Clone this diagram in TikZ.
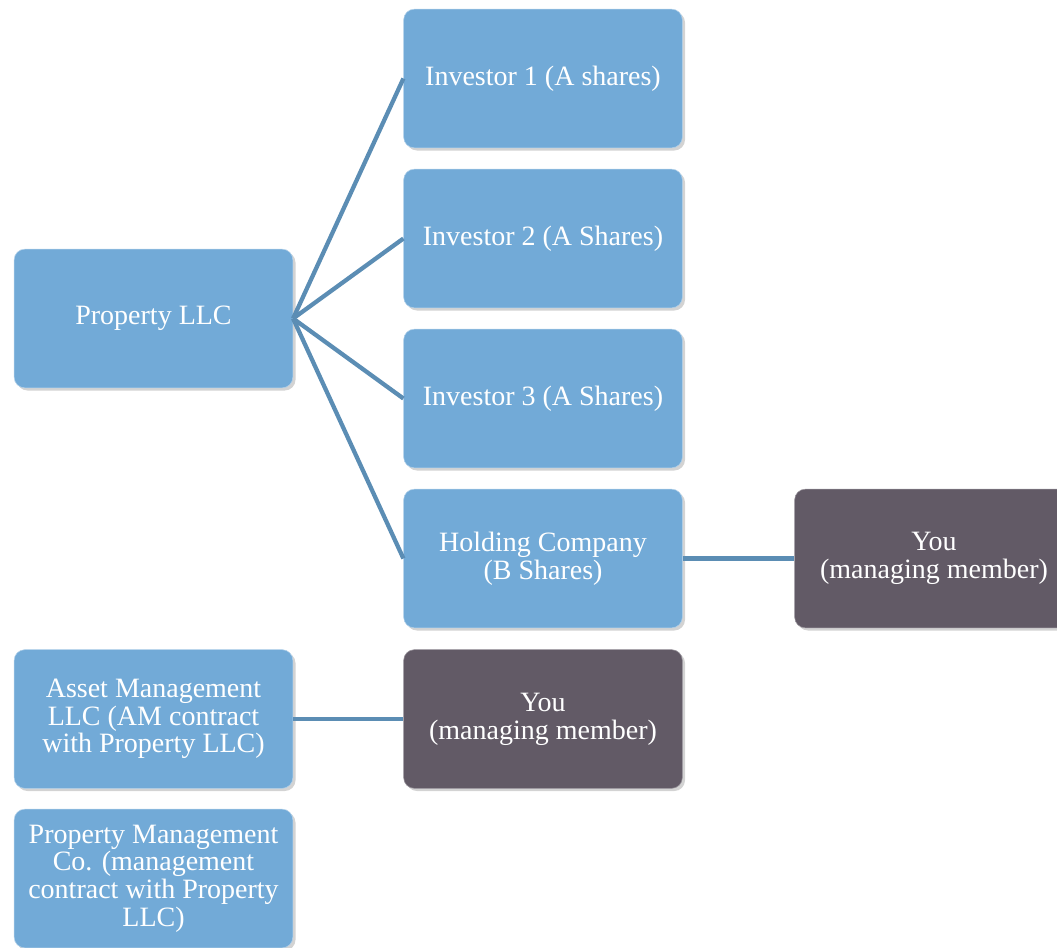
\documentclass[tikz,border=0pt]{standalone}
\usepackage{fontspec}
\setmainfont{Liberation Serif}
\usetikzlibrary{shadows}
\definecolor{boxblue}{HTML}{72AAD7}
\definecolor{boxgrey}{HTML}{625A66}
\definecolor{linkblue}{HTML}{5B8DB4}

\begin{document}
\begin{tikzpicture}[x=0.75pt, y=-0.75pt]
	\tikzstyle{entity} = [rectangle, rounded corners=8pt, minimum width=209pt, minimum height=104pt, align=center, text=white, inner sep=2pt, font={\fontsize{21}{20.8}\selectfont}, drop shadow={opacity=0.35, shadow xshift=2pt, shadow yshift=-2pt}];
	\tikzstyle{llc} = [entity, fill=boxblue, draw=boxblue!55!white, thin];
	\tikzstyle{member} = [entity, fill=boxgrey, draw=boxgrey!65!white, thin];
	\tikzstyle{link} = [draw=linkblue, line width=3.2pt];

	\useasboundingbox (0,0) rectangle (1057,947);

	\node[llc] (prop) at (153.5,318.5) {Property LLC};

	\foreach \lbl [count=\i] in {Investor 1 (A shares), Investor 2 (A Shares), Investor 3 (A Shares)} {
		\node[llc] (inv\i) at (543,{78.5+160*(\i-1)}) {\lbl};
	}
	\node[llc] (hold) at (543,558.5) {Holding Company\\(B Shares)};
	\node[member] (you1) at (934,558.5) {You\\(managing member)};

	\node[llc] (am) at (153.5,719) {Asset Management\\LLC (AM contract\\with Property LLC)};
	\node[member] (you2) at (543,719) {You\\(managing member)};

	\node[llc] (pm) at (153.5,878.5) {Property Management\\Co. (management\\contract with Property\\LLC)};

	% ownership lines
	\foreach \t in {inv1, inv2, inv3, hold}
		\draw[link] (prop.east) -- (\t.west);
	\draw[link] (hold) -- (you1);
	\draw[link] (am) -- (you2);
\end{tikzpicture}
\end{document}
